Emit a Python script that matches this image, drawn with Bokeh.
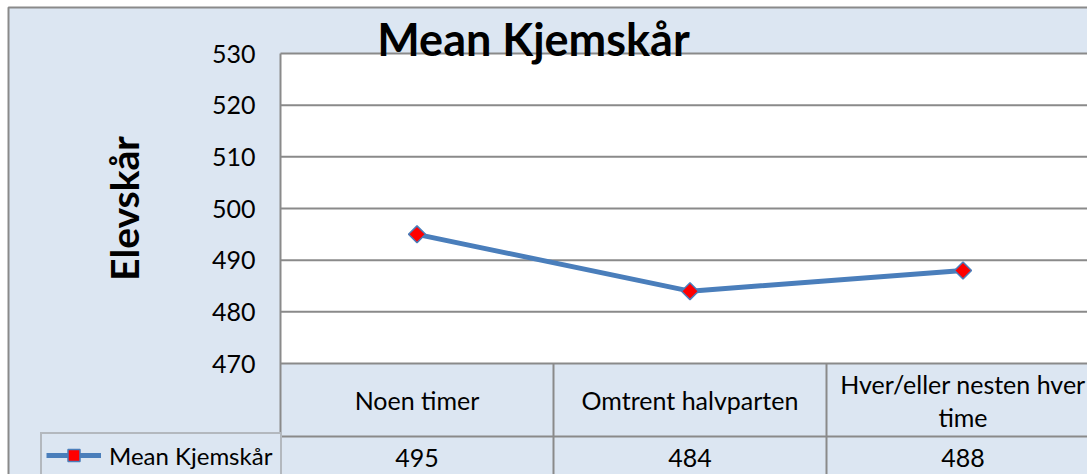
import numpy as np
from bokeh.plotting import figure
from bokeh.models import Range1d, FixedTicker, Legend, LegendItem
from bokeh.core.properties import value
from bokeh.embed import file_html
from bokeh.resources import INLINE

# ---- data ----
categories = ["Noen timer", "Omtrent halvparten", "Hver/eller nesten hver\ntime"]
values = [495, 484, 488]
series_name = "Mean Kjemskår"
title_text = "Mean Kjemskår"
y_label = "Elevskår"
y_ticks = [470, 480, 490, 500, 510, 520, 530]

# ---- style / layout (pixels) ----
BG = "#DCE6F2"
GRID = "#8A8A8A"
BLUE = "#4A7EBB"
FONT = "Lato"
W, H = 1087, 474
PLOT_LEFT = 280         # px of plot-area left edge
COL_PX = 273            # width of one category column
PLOT_TOP = 53           # px of top tick
PLOT_BOTTOM = 363       # px of bottom tick
HDR_PX = 73             # header row height
CHART_LEFT, CHART_TOP = 8, 7

ymin, ymax = min(y_ticks), max(y_ticks)
k = (PLOT_BOTTOM - PLOT_TOP) / (ymax - ymin)     # px per unit


def py(px):  # page pixel row -> data y
    return ymax - (px - PLOT_TOP) / k


def px_x(px):  # page pixel column -> data x
    return (px - PLOT_LEFT) / COL_PX


n = len(categories)
xs = [i + 0.5 for i in range(n)]

p = figure(width=W, height=H, output_backend="svg", toolbar_location=None,
           title=None,
           x_range=Range1d(px_x(0), px_x(W)), y_range=Range1d(py(H), py(0)),
           x_axis_location=None, y_axis_location="left",
           min_border_left=0, min_border_right=0, min_border_top=0,
           min_border_bottom=0, background_fill_color="white",
           border_fill_color="white", outline_line_color=None)
p.grid.visible = False

# chart area (light blue with grey border)
p.quad(left=px_x(CHART_LEFT), right=n + 1, bottom=py(H + 20), top=py(CHART_TOP),
       fill_color=BG, line_color=GRID, line_width=2)
# white plot area
p.quad(left=0, right=n + 1, bottom=ymin, top=ymax, fill_color="white",
       line_color=None)
# horizontal gridlines
p.segment(x0=[0] * len(y_ticks), y0=y_ticks, x1=[n + 1] * len(y_ticks),
          y1=y_ticks, line_color=GRID, line_width=2)

# table lines
y_row = ymin - HDR_PX / k
x0s = [0, 0] + list(range(1, n))
x1s = [0, n + 1] + list(range(1, n))
y0s = [py(H + 20), y_row] + [py(H + 20)] * (n - 1)
y1s = [ymax, y_row] + [ymin] * (n - 1)
p.segment(x0=x0s, y0=y0s, x1=x1s, y1=y1s, line_color=GRID, line_width=2)

# y axis drawn at the plot-area left edge
ax = p.yaxis[0]
ax.fixed_location = 0
ax.bounds = (ymin, ymax)
ax.ticker = FixedTicker(ticks=y_ticks)
ax.axis_line_color = None
ax.major_tick_line_color = None
ax.minor_tick_line_color = None
ax.major_tick_out = 0
ax.major_tick_in = 0
ax.major_label_standoff = 25
ax.major_label_text_font = FONT
ax.major_label_text_font_size = "25px"
ax.major_label_text_color = "black"
ax.axis_label = y_label
ax.axis_label_standoff = 62
ax.axis_label_text_font = FONT
ax.axis_label_text_font_size = "39px"
ax.axis_label_text_font_style = "bold"
ax.axis_label_text_color = "black"

# table text
p.text(x=xs, y=[py(399.5)] * n, text=categories, text_font=value(FONT),
       text_font_size="25px", text_align="center", text_baseline="middle",
       text_line_height=1.1, text_color="black")
p.text(x=xs, y=[py(457)] * n, text=[str(v) for v in values], text_font=value(FONT),
       text_font_size="25px", text_align="center", text_baseline="middle",
       text_color="black")

# title
p.text(x=[px_x(533)], y=[py(38)], text=[title_text], text_font=value(FONT),
       text_font_size="45px", text_font_style="bold", text_align="center",
       text_baseline="middle", text_color="black")

# series
lr = p.line(x=xs, y=values, line_color=BLUE, line_width=5)
sr = p.scatter(x=xs, y=values, marker="square", angle=np.pi / 4, size=12,
               fill_color="red", line_color=BLUE, line_width=1.5)

legend = Legend(items=[LegendItem(label=series_name, renderers=[lr, sr])],
                location=(40, -4), padding=4, spacing=0, margin=0,
                glyph_width=55, glyph_height=30, label_standoff=8,
                label_width=167, label_height=34,
                label_text_font=FONT, label_text_font_size="24px",
                label_text_color="black",
                border_line_color=GRID, border_line_width=2,
                background_fill_color=BG, background_fill_alpha=1)
p.add_layout(legend)

open("out.html", "w").write(file_html(p, INLINE))
